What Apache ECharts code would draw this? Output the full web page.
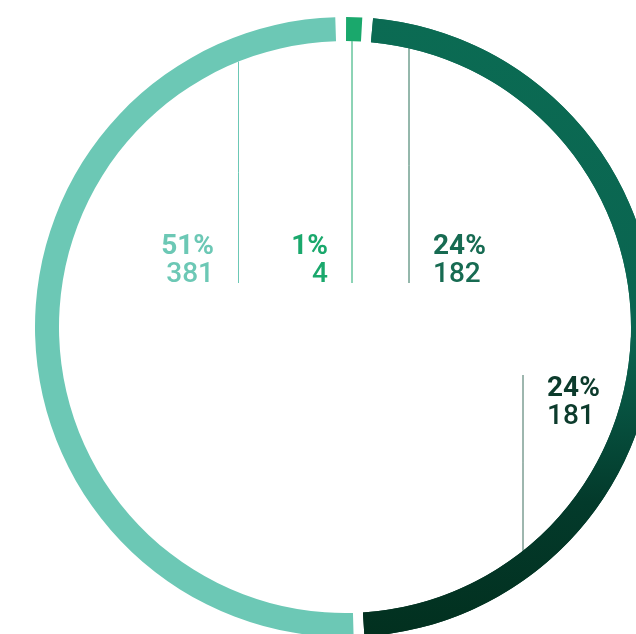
<!DOCTYPE html>
<html><head><meta charset="utf-8">
<script src="https://cdn.jsdelivr.net/npm/echarts@6/dist/echarts.min.js"></script>
<style>html,body{margin:0;padding:0;background:#fff}#c{width:636px;height:634px}</style>
</head><body><div id="c"></div>
<script>
// ---- data ----
const categories = ['s1', 's2', 's3', 's4'];
const values = [4, 182, 181, 381];
const labelColors = ['#1aa86c', '#176b52', '#0c3b2c', '#6cc8b5'];

// ---- layout / style ----
const CX = 345, CY = 327, R_IN = 286, R_OUT = 310;
const START = 90.8, PAD = 2, MIN_ANGLE = 3;
const LABEL_POS = [
  { x: 328, y: 289, align: 'right', va: 'bottom', lineX: 352, lineEnd: 283, down: false },
  { x: 433, y: 289, align: 'left',  va: 'bottom', lineX: 409, lineEnd: 283, down: false },
  { x: 547, y: 375, align: 'left',  va: 'top',    lineX: 523, lineEnd: 375, down: true },
  { x: 214, y: 289, align: 'right', va: 'bottom', lineX: 238.5, lineEnd: 283, down: false }
];
const lineColors = ['#1aa86c', '#2a7058', '#3d6e5e', '#6cc8b5'];
const darkTop = '#0b6b53', darkMid = '#0a6450', darkLow = '#033a2b', darkEnd = '#02301f';
const sectorColors = [
  '#1aa86c',
  new echarts.graphic.LinearGradient(0, 0, 0, 1, [{ offset: 0, color: darkTop }, { offset: 1, color: darkMid }]),
  new echarts.graphic.LinearGradient(0, 0, 0, 1, [{ offset: 0, color: darkMid }, { offset: 0.55, color: darkLow }, { offset: 1, color: darkEnd }]),
  '#6cc8b5'
];

const chart = echarts.init(document.getElementById('c'), null, { renderer: 'canvas' });
const FONT = 'Roboto';
const items = values.map((v, i) => ({
  name: categories[i],
  value: v,
  itemStyle: { color: sectorColors[i] },
  label: {
    color: labelColors[i],
    align: LABEL_POS[i].align,
    rich: {
      p: { fontFamily: FONT, fontSize: 28, fontWeight: 'bold', lineHeight: 28, color: labelColors[i], align: LABEL_POS[i].align },
      v: { fontFamily: FONT, fontSize: 28, fontWeight: 500, lineHeight: 28, color: labelColors[i], align: LABEL_POS[i].align }
    }
  },
  labelLine: { lineStyle: { color: lineColors[i], width: 1 } }
}));

// underlay: the two dark slices as one continuous band (no gap between them)
const underlay = [
  { name: categories[0], value: values[0], itemStyle: { color: 'rgba(0,0,0,0)' } },
  { name: 'dark', value: values[1] + values[2], itemStyle: { color: new echarts.graphic.LinearGradient(0, 0, 0, 1, [
      { offset: 0, color: darkTop }, { offset: 0.5, color: darkMid }, { offset: 0.77, color: darkLow }, { offset: 1, color: darkEnd }]) } },
  { name: categories[3], value: values[3], itemStyle: { color: 'rgba(0,0,0,0)' } }
];

chart.setOption({
  animation: false,
  backgroundColor: '#ffffff',
  series: [{
    type: 'pie',
    z: 1,
    silent: true,
    center: [CX, CY],
    radius: [R_IN, R_OUT],
    startAngle: START,
    clockwise: true,
    padAngle: PAD,
    minAngle: MIN_ANGLE,
    label: { show: false },
    labelLine: { show: false },
    emphasis: { disabled: true },
    data: underlay
  }, {
    type: 'pie',
    z: 2,
    center: [CX, CY],
    radius: [R_IN, R_OUT],
    startAngle: START,
    clockwise: true,
    padAngle: PAD,
    minAngle: MIN_ANGLE,
    percentPrecision: 0,
    avoidLabelOverlap: false,
    emphasis: { disabled: true },
    label: {
      show: true,
      position: 'outside',
      formatter: '{p|{d}%}\n{v|{c}}'
    },
    labelLine: { show: true, length: 5, length2: 5, smooth: false },
    labelLayout: function (p) {
      const L = LABEL_POS[p.dataIndex];
      const dx = L.lineX - CX;
      const h = Math.sqrt(R_IN * R_IN - dx * dx);
      const yRing = L.down ? CY + h : CY - h;
      return {
        x: L.x, y: L.y, align: L.align, verticalAlign: L.va,
        labelLinePoints: [[L.lineX, yRing], [L.lineX, (yRing + L.lineEnd) / 2], [L.lineX, L.lineEnd]]
      };
    },
    data: items
  }]
});
</script>
</body></html>
